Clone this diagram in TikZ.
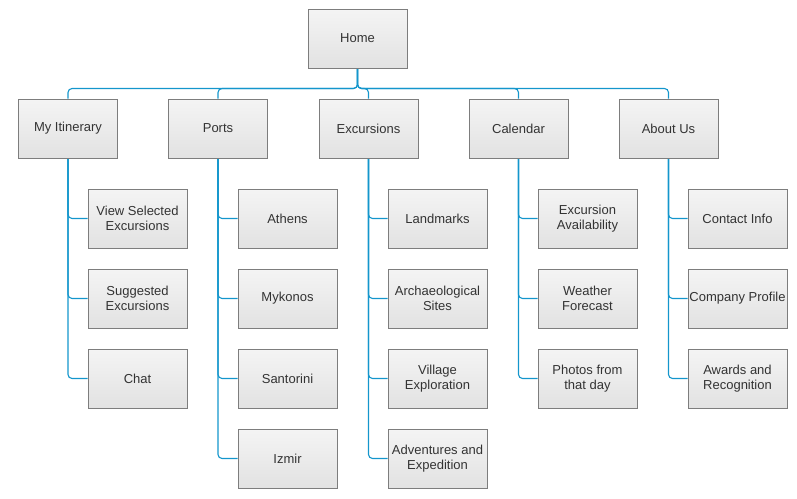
\documentclass[tikz,border=0pt]{standalone}
\usepackage{fontspec}
\setmainfont{Liberation Sans}
\usepackage{xcolor}
\usepackage{tikz}
\usetikzlibrary{backgrounds}
\definecolor{boxfilltop}{RGB}{244,244,244}
\definecolor{boxfillbot}{RGB}{226,226,226}
\definecolor{boxline}{RGB}{125,125,125}
\definecolor{boxtext}{RGB}{51,51,51}
\definecolor{linkblue}{RGB}{20,150,204}

\begin{document}
\begin{tikzpicture}[
    x=1pt, y=-1pt,
    font=\fontsize{13}{15}\selectfont,
    page/.style={draw=boxline, line width=1pt, top color=boxfilltop, bottom color=boxfillbot,
      text=boxtext, align=center, inner sep=1pt, minimum width=99pt, minimum height=59pt},
    link/.style={draw=linkblue, line width=1.1pt, rounded corners=4pt}
  ]
    \useasboundingbox (0,0) rectangle (797,498);
    % top level
    \node[page] (home) at (357.5,38.5) {Home};
    \node[page] (itin) at (68,128.5) {My Itinerary};
    \node[page] (ports) at (218,128.5) {Ports};
    \node[page] (excur) at (368.5,128.5) {Excursions};
    \node[page] (calendar) at (518.5,128.5) {Calendar};
    \node[page] (about) at (668.5,128.5) {About Us};
    % second level
    \node[page] (viewsel) at (137.5,218.5) {View Selected\\Excursions};
    \node[page] (suggest) at (137.5,298.5) {Suggested\\Excursions};
    \node[page] (chat) at (137.5,378.5) {Chat};
    \node[page] (athens) at (287.5,218.5) {Athens};
    \node[page] (mykonos) at (287.5,298.5) {Mykonos};
    \node[page] (santorini) at (287.5,378.5) {Santorini};
    \node[page] (izmir) at (287.5,458.5) {Izmir};
    \node[page] (landmarks) at (437.5,218.5) {Landmarks};
    \node[page] (archaeo) at (437.5,298.5) {Archaeological\\Sites};
    \node[page] (village) at (437.5,378.5) {Village\\Exploration};
    \node[page] (advent) at (437.5,458.5) {Adventures and\\Expedition};
    \node[page] (availab) at (587.5,218.5) {Excursion\\Availability};
    \node[page] (weather) at (587.5,298.5) {Weather\\Forecast};
    \node[page] (photos) at (587.5,378.5) {Photos from\\that day};
    \node[page] (contact) at (737.5,218.5) {Contact Info};
    \node[page] (profile) at (737.5,298.5) {Company Profile};
    \node[page] (awards) at (737.5,378.5) {Awards and\\Recognition};
    \begin{scope}[on background layer]
    % links from home
    \draw[link] (home.south) -- ++(0,20) -| (itin.north);
    \draw[link] (home.south) -- ++(0,20) -| (ports.north);
    \draw[link] (home.south) -- ++(0,20) -| (excur.north);
    \draw[link] (home.south) -- ++(0,20) -| (calendar.north);
    \draw[link] (home.south) -- ++(0,20) -| (about.north);
    % links to sub pages
    \draw[link] (itin.south) |- (viewsel.west);
    \draw[link] (itin.south) |- (suggest.west);
    \draw[link] (itin.south) |- (chat.west);
    \draw[link] (ports.south) |- (athens.west);
    \draw[link] (ports.south) |- (mykonos.west);
    \draw[link] (ports.south) |- (santorini.west);
    \draw[link] (ports.south) |- (izmir.west);
    \draw[link] (excur.south) |- (landmarks.west);
    \draw[link] (excur.south) |- (archaeo.west);
    \draw[link] (excur.south) |- (village.west);
    \draw[link] (excur.south) |- (advent.west);
    \draw[link] (calendar.south) |- (availab.west);
    \draw[link] (calendar.south) |- (weather.west);
    \draw[link] (calendar.south) |- (photos.west);
    \draw[link] (about.south) |- (contact.west);
    \draw[link] (about.south) |- (profile.west);
    \draw[link] (about.south) |- (awards.west);
    \end{scope}
  \end{tikzpicture}
\end{document}
